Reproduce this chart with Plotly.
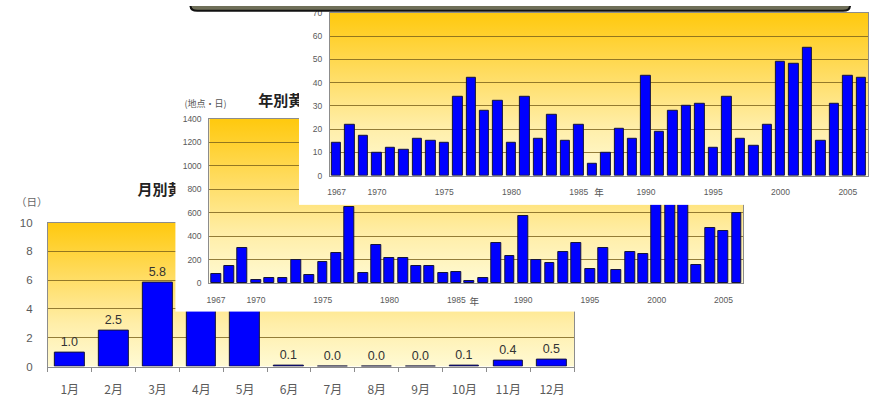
import base64
import plotly.graph_objects as go

W, H = 877, 401
CJK = "Noto Sans CJK JP"
NUM = "Liberation Sans, Arial, sans-serif"

# ---- data -------------------------------------------------------------
months = ["1月", "2月", "3月", "4月", "5月", "6月",
          "7月", "8月", "9月", "10月", "11月", "12月"]
monthly_days = [1.0, 2.5, 5.8, 7.6, 4.8, 0.1, 0.0, 0.0, 0.0, 0.1, 0.4, 0.5]

years = list(range(1967, 2007))
station_days = [80, 150, 300, 25, 44, 49, 197, 68, 186, 257,
                647, 88, 329, 219, 219, 150, 150, 88, 96, 22,
                44, 345, 230, 575, 197, 170, 268, 345, 123, 301,
                112, 268, 252, 720, 1140, 1210, 159, 468, 447, 603]
annual_days = [14, 22, 17, 10, 12, 11, 16, 15, 14, 34,
               42, 28, 32, 14, 34, 16, 26, 15, 22, 5,
               10, 20, 16, 43, 19, 28, 30, 31, 12, 34,
               16, 13, 22, 49, 48, 55, 15, 31, 43, 42]
year_ticks = [1967, 1970, 1975, 1980, 1985, 1990, 1995, 2000, 2005]

# ---- styling ----------------------------------------------------------
BAR = "#0000FF"
BAR_EDGE = "#14143C"
GRID = "rgba(120,95,25,0.8)"
FRAME = "#8C8C8C"
TICK = "#5A5A5A"

svg = ('<svg xmlns="http://www.w3.org/2000/svg" width="10" height="100" '
       'viewBox="0 0 10 100" preserveAspectRatio="none">'
       '<defs><linearGradient id="g" x1="0" y1="0" x2="0" y2="1">'
       '<stop offset="0" stop-color="#FFC90E"/>'
       '<stop offset="0.35" stop-color="#FFDB5C"/>'
       '<stop offset="0.7" stop-color="#FFEEA8"/>'
       '<stop offset="1" stop-color="#FFFAD4"/>'
       '</linearGradient></defs>'
       '<rect x="0" y="0" width="10" height="100" fill="url(#g)"/></svg>')
GRAD = "data:image/svg+xml;base64," + base64.b64encode(svg.encode()).decode()


def dom_x(a, b):
    return [a / W, b / W]


def dom_y(top, bottom):
    return [1 - bottom / H, 1 - top / H]


def text_trace(x, y, label, ax, size, color, pos="middle right", family=CJK):
    return go.Scatter(x=[x], y=[y], text=[label], mode="text", textposition=pos,
                      textfont=dict(size=size, color=color, family=family),
                      xaxis="x" + ax, yaxis="y" + ax,
                      hoverinfo="skip", showlegend=False, cliponaxis=False)


fig = go.Figure()

# 1: page backdrop in pixel coordinates
fig.add_trace(text_trace(135, 191, "<b>月別黄</b>", "", 15, "#222"))
fig.add_trace(text_trace(13, 203, "（日）", "", 10.5, "#666"))

# 2: monthly chart
fig.add_trace(go.Bar(
    x=months, y=monthly_days, xaxis="x2", yaxis="y2", width=0.68,
    marker=dict(color=BAR, line=dict(color=BAR_EDGE, width=1)),
    texttemplate="%{y:.1f}", textposition="outside", constraintext="none",
    textfont=dict(size=12.5, color="#333", family=NUM),
    cliponaxis=False, showlegend=False, hoverinfo="skip"))

# 3: white card of the station-days chart
fig.add_trace(text_trace(182, 102, "(地点・日)", "3", 9, "#555"))
fig.add_trace(text_trace(256, 99, "<b>年別黄</b>", "3", 15, "#222"))
fig.add_trace(text_trace(473, 306, "年", "3", 9.5, "#555", "middle center"))

# 4: station-days chart
fig.add_trace(go.Bar(
    x=years, y=station_days, xaxis="x4", yaxis="y4", width=0.74,
    marker=dict(color=BAR, line=dict(color=BAR_EDGE, width=1)),
    showlegend=False, hoverinfo="skip"))

# 5: white card of the annual chart
fig.add_trace(text_trace(598, 193, "年", "5", 9.5, "#555", "middle center"))

# 6: annual chart
fig.add_trace(go.Bar(
    x=years, y=annual_days, xaxis="x6", yaxis="y6", width=0.7,
    marker=dict(color=BAR, line=dict(color=BAR_EDGE, width=1)),
    showlegend=False, hoverinfo="skip"))


def hidden_x(domain, rng, anchor):
    return dict(domain=domain, range=rng, visible=False, fixedrange=True, anchor=anchor)


def hidden_y(domain, rng, anchor):
    return dict(domain=domain, range=rng, visible=False, fixedrange=True, anchor=anchor)


def frame_axis(**kw):
    base = dict(showline=True, linecolor=FRAME, linewidth=1, mirror=True,
                zeroline=False, fixedrange=True)
    base.update(kw)
    return base


layout = dict(
    width=W, height=H, margin=dict(l=0, r=0, t=0, b=0),
    paper_bgcolor="white", plot_bgcolor="white", showlegend=False,
    bargap=0,
    xaxis=hidden_x([0, 1], [0, W], "y"),
    yaxis=hidden_y([0, 1], [H, 0], "x"),
    # monthly chart
    xaxis2=frame_axis(domain=dom_x(45, 573), anchor="y2", type="category",
                      showgrid=False, ticks="outside", tickson="boundaries",
                      ticklen=4, tickcolor=FRAME, ticklabelstandoff=12,
                      tickfont=dict(size=12, color=TICK, family=CJK)),
    yaxis2=frame_axis(domain=dom_y(223.3, 371.7), anchor="x2", range=[0, 10],
                      dtick=2, showgrid=True, gridcolor=GRID, gridwidth=1.2,
                      ticks="", ticklabelstandoff=12,
                      tickfont=dict(size=11.5, color=TICK, family=NUM)),
    # white card (station days)
    xaxis3=hidden_x(dom_x(173, 750), [173, 750], "y3"),
    yaxis3=hidden_y(dom_y(88, 315), [315, 88], "x3"),
    # station-days chart
    xaxis4=frame_axis(domain=dom_x(207, 743), anchor="y4", range=[1966.5, 2006.5],
                      tickvals=year_ticks, showgrid=False, ticks="",
                      ticklabelstandoff=8,
                      tickfont=dict(size=8.5, color=TICK, family=NUM)),
    yaxis4=frame_axis(domain=dom_y(116.5, 286), anchor="x4", range=[0, 1400],
                      dtick=200, showgrid=True, gridcolor=GRID, gridwidth=1.2,
                      ticks="", ticklabelstandoff=5,
                      tickfont=dict(size=8.5, color=TICK, family=NUM)),
    # white card (annual)
    xaxis5=hidden_x(dom_x(297, 877), [297, 877], "y5"),
    yaxis5=hidden_y(dom_y(0, 205), [205, 0], "x5"),
    # annual chart
    xaxis6=frame_axis(domain=dom_x(328, 868), anchor="y6", range=[1966.5, 2006.5],
                      tickvals=year_ticks, showgrid=False, ticks="",
                      ticklabelstandoff=8,
                      tickfont=dict(size=8.5, color=TICK, family=NUM)),
    yaxis6=frame_axis(domain=dom_y(7, 175), anchor="x6", range=[0, 70],
                      dtick=10, showgrid=True, gridcolor=GRID, gridwidth=1.2,
                      ticks="", ticklabelstandoff=5,
                      tickfont=dict(size=8.5, color=TICK, family=NUM)),
)
fig.update_layout(**layout)

# yellow gradient behind each plot area
for n in ("2", "4", "6"):
    fig.add_layout_image(dict(source=GRAD, xref=f"x{n} domain", yref=f"y{n} domain",
                              x=0, y=1, sizex=1, sizey=1, xanchor="left",
                              yanchor="top", sizing="stretch", layer="below"))

# dark header strip along the top edge
fig.add_shape(type="path", xref="x", yref="y", layer="above",
              path="M 188 -6 L 188 -1 Q 188 5 195 5 L 843 5 Q 850 5 850 -1 L 850 -6 Z",
              fillcolor="#6F6F58", line=dict(color="#111", width=2))

fig.write_html("out.html")
